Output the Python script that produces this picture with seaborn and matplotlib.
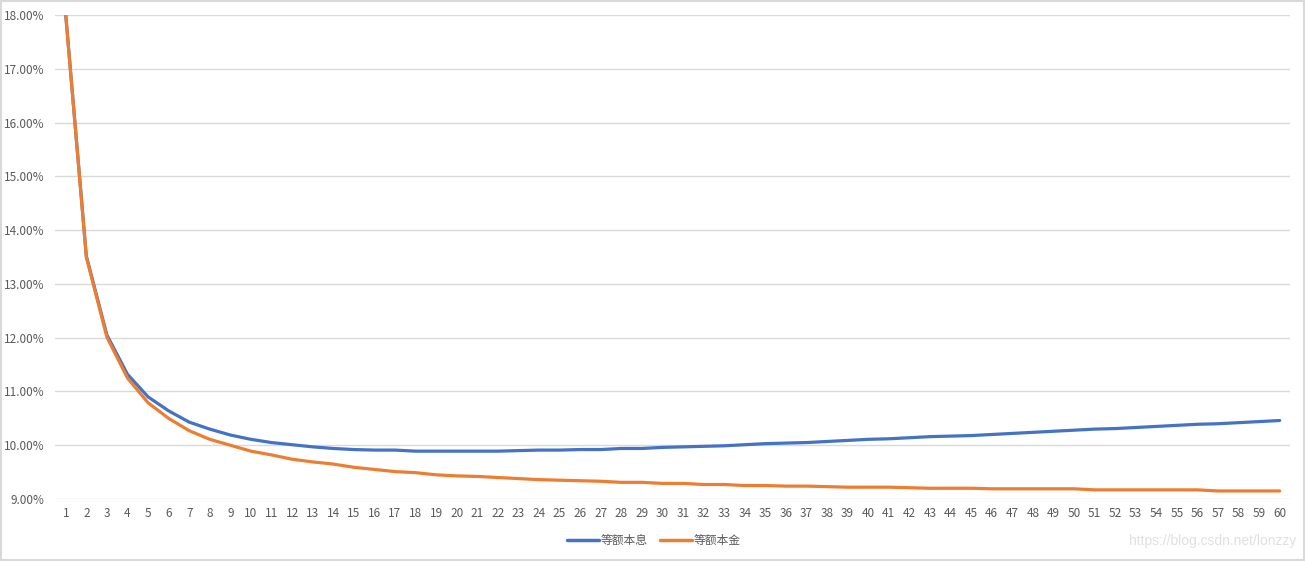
import seaborn as sns
import pandas as pd
import numpy as np
import matplotlib.pyplot as plt
from matplotlib.ticker import FuncFormatter
from matplotlib.patches import Rectangle

months = list(range(1, 61))
# annualised rate (%)
equal_installment = [18.00, 13.52, 12.05, 11.32, 10.90, 10.64, 10.43, 10.30, 10.19, 10.11,
                     10.05, 10.01, 9.97, 9.94, 9.92, 9.91, 9.91, 9.89, 9.89, 9.89,
                     9.89, 9.89, 9.90, 9.91, 9.91, 9.92, 9.92, 9.94, 9.94, 9.96,
                     9.97, 9.98, 9.99, 10.01, 10.03, 10.04, 10.05, 10.07, 10.09, 10.11,
                     10.12, 10.14, 10.16, 10.17, 10.18, 10.20, 10.22, 10.24, 10.26, 10.28,
                     10.30, 10.31, 10.33, 10.35, 10.37, 10.39, 10.40, 10.42, 10.44, 10.46]
equal_principal = [18.00, 13.50, 12.01, 11.25, 10.79, 10.50, 10.27, 10.11, 10.00, 9.89,
                   9.82, 9.74, 9.69, 9.65, 9.59, 9.55, 9.51, 9.49, 9.45, 9.43,
                   9.42, 9.40, 9.38, 9.36, 9.35, 9.34, 9.33, 9.31, 9.31, 9.29,
                   9.29, 9.27, 9.27, 9.25, 9.25, 9.24, 9.24, 9.23, 9.22, 9.22,
                   9.22, 9.21, 9.20, 9.20, 9.20, 9.19, 9.19, 9.19, 9.19, 9.19,
                   9.17, 9.17, 9.17, 9.17, 9.17, 9.17, 9.15, 9.15, 9.15, 9.15]
series_names = ["等额本息", "等额本金"]
colors = ["#4472C4", "#ED7D31"]

df = pd.DataFrame({
    "month": months * 2,
    "rate": equal_installment + equal_principal,
    "type": [series_names[0]] * 60 + [series_names[1]] * 60,
})

sns.set_style("white")
plt.rcParams['font.family'] = ['Noto Sans CJK SC', 'DejaVu Sans']

fig = plt.figure(figsize=(13.05, 5.61), dpi=100)
ax = fig.add_axes([0.0425, 0.1105, 0.946, 0.8625])

sns.lineplot(data=df, x="month", y="rate", hue="type", palette=colors,
             linewidth=2.3, ax=ax, legend=False)

ax.set_xlim(0.5, 60.5)
ax.set_ylim(9, 18)
ax.set_yticks(np.arange(9, 18.5, 1))
ax.set_xticks(months)
ax.yaxis.set_major_formatter(FuncFormatter(lambda v, p: f"{v:.2f}%"))
ax.grid(axis="y", color="#d9d9d9", linewidth=1)
ax.set_axisbelow(True)
for s in ax.spines.values():
    s.set_visible(False)
ax.tick_params(axis="both", length=0, labelsize=8.5, colors="#595959", pad=6)
ax.tick_params(axis="y", pad=8)
ax.set_xlabel("")
ax.set_ylabel("")

handles = [plt.Line2D([], [], color=c, linewidth=2.5) for c in colors]
fig.legend(handles, series_names, loc="center", bbox_to_anchor=(0.501, 0.036),
           ncol=2, frameon=False, fontsize=8.5, handlelength=2.7,
           handletextpad=0.2, columnspacing=1.0, labelcolor="#595959")

fig.text(0.993, 0.036, "https://blog.csdn.net/lonzzy", ha="right", va="center",
         fontsize=10, color="#e0e0e0", family=["Liberation Sans", "DejaVu Sans"])

fig.patches.append(Rectangle((0.001, 0.001), 0.998, 0.997, transform=fig.transFigure,
                             fill=False, edgecolor="#d9d9d9", linewidth=1.5))

fig.savefig("out.png", dpi=100)
